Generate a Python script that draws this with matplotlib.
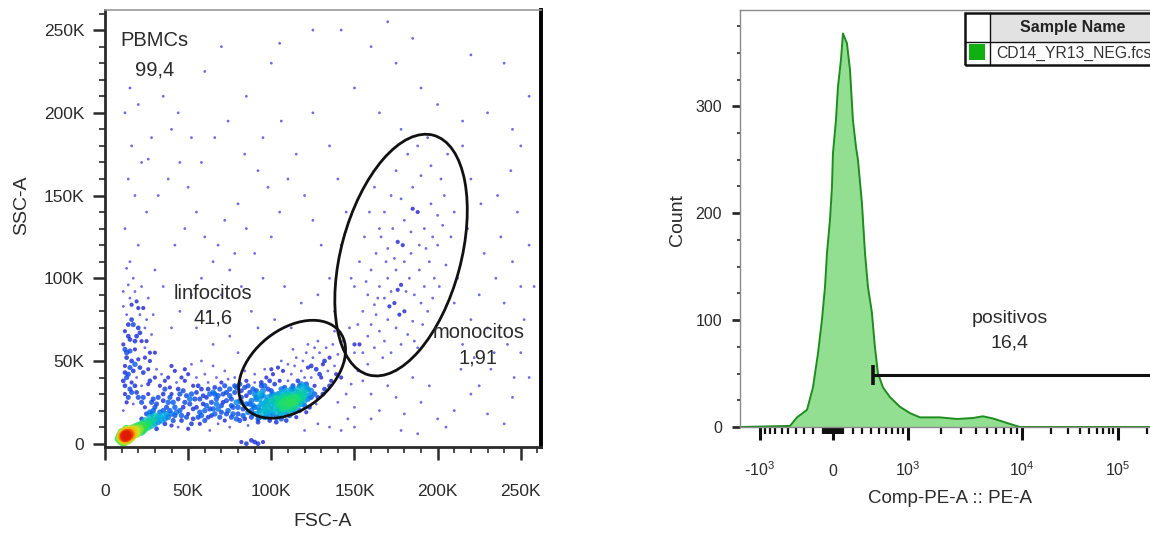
import numpy as np
import matplotlib.pyplot as plt
from matplotlib.patches import Ellipse, Rectangle
from matplotlib.colors import LinearSegmentedColormap
from matplotlib.scale import FuncScale
from matplotlib.ticker import FixedLocator, MultipleLocator, FuncFormatter, FixedFormatter

plt.rcParams['font.family'] = ['Liberation Sans', 'DejaVu Sans']
plt.rcParams['mathtext.fontset'] = 'custom'
plt.rcParams['mathtext.rm'] = 'Liberation Sans'
plt.rcParams['mathtext.it'] = 'Liberation Sans'
plt.rcParams['mathtext.default'] = 'regular'

# ---------------- left panel: FSC-A / SSC-A events (thousands) ----------------
debris = [(9,2),(10,3),(11,2),(12,4),(10,5),(13,3),(14,5),(11,6),(12,7),(15,4),(16,6),(13,8),(9,4),(10,7),
          (14,2),(12,1),(15,8),(17,5),(18,7),(16,9),(19,6),(20,8),(18,10),(21,9),(22,7),(23,10),(20,11),(24,9),
          (25,12),(22,12),(26,10),(27,13),(24,14),(28,11),(29,14),(30,12),(27,16),(31,15),(32,13),(33,16),(30,17),
          (34,14),(35,17),(36,15),(37,18),(38,16),(40,18),(39,20),(42,17),(11,4),(12,5),(13,6),(14,4),(13,5),
          (12,3),(11,5),(15,6),(14,7),(10,4),(16,7),(17,8),(19,9),(21,10),(23,11),(25,11),(26,13),(28,14),
          (11,3),(12,6),(13,4),(10,6),(14,6),(12,2),(13,7),(11,7),(15,5),(16,5),(9,3),(10,2),(17,6),(18,8),
          (8,3),(9,5),(10,1),(11,1),(13,2),(14,3),(15,3),(16,4),(12,8),(13,9),(14,8),(15,7),(16,8),(17,7),
          (18,6),(19,8),(20,7),(21,8),(22,9),(23,8),(24,11),(26,12),(20,9),(19,7)]
cloud = [(45,20),(48,25),(50,18),(52,30),(55,22),(57,27),(60,20),(62,33),(64,25),(66,18),(68,29),(70,23),
         (72,35),(74,20),(76,27),(78,31),(80,22),(82,28),(84,34),(86,19),(88,26),(90,30),(92,22),(94,37),
         (47,32),(51,24),(53,15),(56,35),(58,17),(61,28),(63,21),(65,31),(67,24),(69,16),(71,30),(73,26),
         (75,33),(77,18),(79,25),(81,36),(83,21),(85,29),(87,24),(89,33),(91,18),(93,27),(46,14),(49,29),
         (54,27),(59,24),(62,16),(66,34),(70,19),(73,31),(76,23),(79,15),(82,25),(85,38),(88,20),(91,32),
         (94,24),(30,22),(32,28),(35,20),(36,33),(38,25),(40,30),(42,22),(43,37),(41,14),(38,40),(33,35),
         (28,25),(26,30),(34,42),(44,27),(25,18),(29,20),(31,9),(44,10),(50,9),(57,12),(63,8),(68,12),(75,10),
         (81,14),(86,11),(92,13),(97,18),(55,40),(60,42),(67,40),(72,44),(78,40),(84,44),(90,42),(96,45),
         (48,45),(40,47),(52,48),(58,50),(65,47),(82,1),(85,0),(88,2),(90,1),(92,0),(95,1),
         (22,15),(24,22),(27,19),(29,27),(31,24),(33,19),(35,26),(37,22),(39,28),(41,25),(43,19),(45,30),
         (47,22),(49,16),(51,27),(53,21),(55,31),(57,19),(59,29),(61,23),(63,30),(65,21),(67,27),(69,33),
         (71,25),(73,18),(75,29),(77,22),(79,34),(81,26),(83,17),(85,24),(87,31),(89,23),(91,28),(93,20),
         (95,32),(97,26),(23,28),(26,36),(30,40),(35,30),(39,34),(44,33),(48,38),(53,35),(58,33),(62,37),
         (66,30),(70,37),(74,39),(78,35),(82,32),(86,35),(90,37),(94,29),(98,33),(28,18),(32,16),(36,12),
         (40,11),(46,17),(52,12),(56,16),(60,14),(64,17),(68,21),(72,14),(76,16),(80,18),(84,15),(88,16),
         (93,16),(96,21),(42,44),(46,40),(50,42),(36,38),(31,45),(27,50)]
left_column = [(11,20),(13,25),(12,30),(15,33),(11,38),(14,42),(12,47),(16,50),(13,55),(11,60),(15,63),
               (12,68),(17,72),(13,78),(11,83),(15,88),(18,92),(14,96),(20,28),(22,35),(19,40),(21,46),
               (24,52),(18,57),(22,62),(20,70),(25,75),(23,82),(19,86),(26,45),(27,38),(17,24),(12,43),
               (16,37),(13,52),(19,65),(24,58),(28,66),(30,55),(21,78),(14,72),(16,84),(11,92),(17,100),
               (22,95),(13,106),(26,88),(29,78),(12,35),(18,48),(14,28),(16,31),(18,35),(13,40),(17,44),
               (20,51),(15,56),(18,62),(21,67),(16,75),(14,65),(24,70),(20,82),(23,43),(25,62),(27,55),
               (15,46),(19,31),(22,25),(12,57)]
lymph = [(100,20),(102,22),(104,21),(106,24),(108,23),(110,26),(112,25),(114,28),(116,27),(118,30),(120,29),
         (103,19),(105,23),(107,22),(109,25),(111,24),(113,27),(115,26),(117,29),(119,31),(121,31),(101,18),
         (104,24),(106,21),(108,26),(110,23),(112,28),(114,25),(116,30),(118,27),(99,21),(102,25),(105,20),
         (107,27),(109,22),(111,29),(113,23),(115,31),(117,25),(119,28),(122,33),(100,23),(103,26),(106,19),
         (108,29),(110,21),(112,31),(114,22),(116,33),(120,26),(124,32),(97,19),(101,26),(123,29),(111,27),
         (109,27),(107,25),(105,26),(113,25),(115,28),
         (98,24),(100,26),(102,28),(104,27),(106,28),(108,31),(110,30),(112,22),(114,20),(116,23),(118,24),
         (120,23),(122,27),(124,28),(126,30),(103,16),(105,17),(107,19),(109,18),(111,20),(113,19),(119,34),
         (121,34),(117,35),(113,33),(109,32),(105,30),(101,30),(97,25),(99,17),
         (92,15),(95,24),(93,30),(96,35),(98,28),(99,14),(94,19),(97,40),(100,32),(102,36),(104,30),(101,42),
         (105,38),(106,15),(108,34),(107,44),(110,38),(111,17),(112,42),(113,35),(114,47),(116,38),(117,20),
         (118,44),(120,40),(119,50),(121,36),(122,46),(123,22),(124,40),(125,52),(126,35),(127,45),(128,28),
         (129,55),(130,40),(131,48),(132,33),(133,58),(134,44),(135,52),(136,38),(137,60),(138,47),(126,58),
         (121,55),(115,52),(110,48),(104,46),(99,38),(95,29),(90,22),(91,27),(96,16),(103,13),(109,14),
         (115,16),(121,19),(127,24),(131,30),(135,35),(139,42),(140,54),(128,62),(122,60),(113,57),(106,50),
         (100,45),(94,35),(89,18),(132,50),(129,42),(124,47),(118,36),(112,33),(106,33),(100,29),(96,22)]
between = [(140,25),(145,30),(142,40),(148,36),(150,22),(146,15),(152,44),(144,50),(155,38),(150,55),(143,62),
           (138,68),(147,70),(153,60),(158,48),(160,30),(135,10),(128,12),(120,8),(142,8),(150,10),(165,20),
           (170,35),(175,28),(160,15),(180,18),(190,25),(200,15),(185,40),(195,35),(210,20),(220,30),(230,18),
           (245,28),(240,12),(205,10),(178,8),(188,6),(255,40),(250,55)]
mono = [(150,60),(155,55),(158,65),(160,72),(162,58),(165,68),(168,62),(170,75),(172,55),(175,70),(178,60),
        (180,80),(182,66),(185,74),(188,58),(190,85),(155,80),(158,90),(162,84),(165,95),(168,88),(170,100),
        (172,92),(175,105),(178,96),(180,110),(183,100),(186,90),(189,105),(192,95),(195,110),(198,100),
        (200,120),(160,105),(163,115),(166,125),(170,118),(173,130),(176,122),(180,135),(184,128),(188,140),
        (192,130),(196,145),(200,138),(204,150),(168,140),(172,150),(178,148),(185,155),(190,162),(196,168),
        (202,160),(206,175),(175,165),(182,175),(188,180),(194,185),(152,72),(157,98),(163,78),(167,52),
        (174,85),(177,78),(181,92),(186,62),(191,72),(194,80),(197,88),(201,95),(205,108),(208,125),(210,140),
        (150,95),(153,110),(156,125),(159,140),(162,155),(165,130),(169,110),(174,112),(179,120),(184,115),
        (189,120),(193,118),(197,125),(203,132),(185,142),(171,83),(176,93),(164,88)]
right_side = [(215,60),(220,75),(225,90),(230,70),(235,100),(240,85),(245,110),(250,95),(228,115),(238,125),
              (248,140),(255,120),(218,130),(226,145),(212,100),(222,52),(232,45),(242,60),(252,75),(210,85),
              (236,150),(244,165),(250,180),(220,160),(215,180),(258,95),(246,40),(234,55),(225,35),(214,45)]
upper = [(15,110),(20,120),(12,130),(25,140),(18,150),(14,160),(22,170),(16,180),(28,185),(12,200),(20,205),
         (35,210),(15,215),(40,190),(45,170),(38,160),(32,150),(50,155),(55,140),(48,130),(42,120),(60,125),
         (65,110),(58,100),(52,90),(45,80),(40,70),(35,95),(30,105),(55,70),(62,80),(70,90),(75,105),(68,120),
         (72,135),(80,145),(85,130),(78,115),(82,95),(88,80),(92,70),(95,100),(90,115),(100,125),(105,140),
         (98,155),(110,160),(115,175),(120,150),(125,135),(130,120),(135,100),(128,90),(118,85),(108,95),
         (102,75),(112,70),(75,65),(80,55),(65,60),(58,170),(66,185),(74,195),(84,175),(95,185),(106,195),
         (60,225),(85,210),(100,230),(125,200),(135,180),(140,160),(145,140),(142,120),(138,80),(148,100),
         (26,172),(44,200),(52,185),(92,165),(150,215),(160,240),(175,230),(185,245),(190,215),(200,205),
         (215,195),(230,200),(245,190),(255,210),(165,200),(178,190),(142,250),(170,255),(220,235),(240,230),
         (105,242),(125,250),(70,240)]

# gates: (centre x, centre y, width, height, angle) in thousands
lymph_gate = (112.5, 45, 73, 48, 39)
mono_gate = (178, 114, 150, 72, 75)

# ---------------- right panel: Comp-PE-A histogram ----------------
pe_values = [-1533, -478, -387, -268, -203, -150, -110, -79, -59, -30, -10, 0, 29, 48, 77, 97, 136, 167, 197,
             229, 250, 294, 328, 363, 411, 449, 490, 517, 560, 665, 836, 1045, 1295, 1500, 1958, 2760, 3794,
             4625, 5640, 6877, 8370, 9620, 262144]
pe_counts = [0, 1, 9, 16, 37, 69, 100, 131, 163, 193, 224, 256, 287, 318, 343, 368, 359, 334, 287, 262, 250,
             209, 163, 131, 107, 75, 50, 45, 37, 28, 19, 13, 9, 9, 9, 7.5, 8.4, 10, 8, 5, 2, 0, 0]
gate_start = 424
gate_count = 48.6

# ---------------- figure ----------------
W, H = 1150, 536
fig = plt.figure(figsize=(W / 100, H / 100), dpi=100)
dark = '#2b2b2b'

ax1 = fig.add_axes([105 / W, 1 - 447 / H, 436 / W, 437 / H])
pts = np.array(debris + cloud + left_column + lymph + between + mono + right_side + upper, dtype=float)
dx = pts[:, None, 0] - pts[None, :, 0]
dy = pts[:, None, 1] - pts[None, :, 1]
dens = (np.hypot(dx, dy) < 4.0).sum(axis=1) - 1
c = np.clip(dens / dens.max(), 0, 1) ** 0.6
order = np.argsort(c)
cmap = LinearSegmentedColormap.from_list('flow', ['#4848e0', '#1a1ad0', '#0058f0', '#00b0e0', '#10dc80',
                                                   '#40e040', '#c8e828', '#ffb000', '#e01800'])
ax1.scatter(pts[order, 0] * 1000, pts[order, 1] * 1000, c=c[order], cmap=cmap, vmin=0, vmax=1,
            s=4 + 46 * c[order], marker='o', linewidths=0, alpha=0.8)

for g in (lymph_gate, mono_gate):
    ax1.add_patch(Ellipse((g[0] * 1000, g[1] * 1000), g[2] * 1000, g[3] * 1000, angle=g[4],
                          fill=False, ec='#111111', lw=2))

ax1.set_xlim(0, 262144)
ax1.set_ylim(-2000, 262144)
ax1.xaxis.set_major_locator(MultipleLocator(50000))
ax1.yaxis.set_major_locator(MultipleLocator(50000))
ax1.xaxis.set_minor_locator(MultipleLocator(10000))
ax1.yaxis.set_minor_locator(MultipleLocator(10000))
kfmt = FuncFormatter(lambda v, p: '0' if v == 0 else f'{int(round(v / 1000))}K')
ax1.xaxis.set_major_formatter(kfmt)
ax1.yaxis.set_major_formatter(kfmt)
ax1.tick_params(which='major', length=9, width=1.8, color=dark, labelsize=12.5, labelcolor=dark)
ax1.tick_params(which='minor', length=4, width=1.2, color=dark)
ax1.tick_params(axis='x', which='major', pad=18)
ax1.tick_params(axis='y', which='major', pad=6)
ax1.spines['top'].set_color('#9a9a9a')
ax1.spines['top'].set_linewidth(1.2)
ax1.spines['right'].set_color('#000000')
ax1.spines['right'].set_linewidth(2.8)
for s in ('left', 'bottom'):
    ax1.spines[s].set_color(dark)
    ax1.spines[s].set_linewidth(2)
ax1.set_xlabel('FSC-A', fontsize=14, color=dark)
ax1.set_ylabel('SSC-A', fontsize=14, color=dark)
ax1.xaxis.set_label_coords(0.498, -0.152)
ax1.yaxis.set_label_coords(-0.172, 0.554)

for txt, x, y in [('PBMCs', 30, 244), ('99,4', 30, 226), ('linfocitos', 65, 90.5), ('41,6', 65, 75.8),
                  ('monocitos', 224.5, 67.4), ('1,91', 224.5, 51.7)]:
    ax1.text(x * 1000, y * 1000, txt, fontsize=14.5, color=dark, ha='center', va='center')

# biexponential-like axis for PE-A
T_ANCH = np.arcsinh(np.array([-1e6, -1000, 0, 1000, 1e4, 1e5, 1e7]) / 500)
P_ANCH = np.array([413.6, 760, 833, 908, 1022, 1118, 1310.0])


def biex_fwd(x):
    return np.interp(np.arcsinh(np.asarray(x, dtype=float) / 500), T_ANCH, P_ANCH)


def biex_inv(p):
    return 500 * np.sinh(np.interp(np.asarray(p, dtype=float), P_ANCH, T_ANCH))


ax2 = fig.add_axes([740 / W, 1 - 427 / H, 418 / W, 417 / H])
ax2.set_xscale(FuncScale(ax2, (biex_fwd, biex_inv)))
ax2.fill_between(pe_values, pe_counts, 0, color='#92df92', lw=0)
ax2.plot(pe_values, pe_counts, color='#1e8c1e', lw=1.4)
ax2.hlines(gate_count, gate_start, 262144, color='#111111', lw=2.2)
ax2.vlines(gate_start, gate_count - 9, gate_count + 9, color='#111111', lw=2.6)
ax2.text(7890, 101.9, 'positivos', fontsize=14, color=dark, ha='center', va='center')
ax2.text(7890, 78.5, '16,4', fontsize=14, color=dark, ha='center', va='center')

ax2.set_xlim(-1533, 262144)
ax2.set_ylim(0, 390)
ax2.yaxis.set_major_locator(FixedLocator([0, 100, 200, 300]))
ax2.yaxis.set_minor_locator(MultipleLocator(25))
major_x = [-1000, 0, 1000, 1e4, 1e5]
ax2.xaxis.set_major_locator(FixedLocator(major_x))
ax2.xaxis.set_major_formatter(FixedFormatter(['-$10^3$', '0', '$10^3$', '$10^4$', '$10^5$']))
minor_x = ([-k * 100 for k in range(1, 10)] + [k * 100 for k in range(1, 10)] +
           [k * 10 for k in range(-9, 10) if k != 0] +
           [k * 1000 for k in range(2, 10)] + [k * 10000 for k in range(2, 10)] + [2e5])
ax2.xaxis.set_minor_locator(FixedLocator(minor_x))
ax2.tick_params(axis='y', which='major', length=6, width=2, color=dark, labelsize=11.5, labelcolor=dark, pad=7)
ax2.tick_params(axis='y', which='minor', length=2.5, width=1.2, color=dark)
ax2.tick_params(axis='x', which='major', length=9, width=2.2, color='#111111', labelsize=11.5,
                labelcolor=dark, pad=26)
ax2.tick_params(axis='x', which='minor', length=5, width=1.6, color='#111111')
for lab in ax2.get_xticklabels():
    lab.set_verticalalignment('baseline')
for s in ('left', 'top', 'bottom'):
    ax2.spines[s].set_color('#8a8a8a')
    ax2.spines[s].set_linewidth(1)
ax2.spines['right'].set_visible(False)
ax2.set_xlabel('Comp-PE-A :: PE-A', fontsize=13.5, color=dark)
ax2.set_ylabel('Count', fontsize=14, color=dark)
ax2.xaxis.set_label_coords(0.502, -0.150)
ax2.yaxis.set_label_coords(-0.129, 0.496)

# sample legend table (pixel layout)
def fx(px):
    return px / W


def fy(py):
    return 1 - py / H


fig.add_artist(Rectangle((fx(990), fy(42)), fx(1200) - fx(990), fy(13) - fy(42), transform=fig.transFigure,
                         fc='#e2e2e2', ec='none'))
fig.add_artist(Rectangle((fx(965), fy(65)), fx(1200) - fx(965), fy(13) - fy(65), transform=fig.transFigure,
                         fc='none', ec='#111111', lw=1.8))
fig.add_artist(plt.Line2D([fx(965), fx(1200)], [fy(42), fy(42)], transform=fig.transFigure, color='#111111', lw=1))
fig.add_artist(plt.Line2D([fx(990), fx(990)], [fy(13), fy(65)], transform=fig.transFigure, color='#111111', lw=1))
fig.add_artist(Rectangle((fx(969), fy(60)), fx(985) - fx(969), fy(44) - fy(60), transform=fig.transFigure,
                         fc='#10b010', ec='none'))
fig.text(fx(1073), fy(27.5), 'Sample Name', fontsize=11.5, fontweight='bold', color='#222222',
         ha='center', va='center')
fig.text(fx(996), fy(53.5), 'CD14_YR13_NEG.fcs', fontsize=11.3, color='#333333', ha='left', va='center')

fig.savefig('out.png', dpi=100)
